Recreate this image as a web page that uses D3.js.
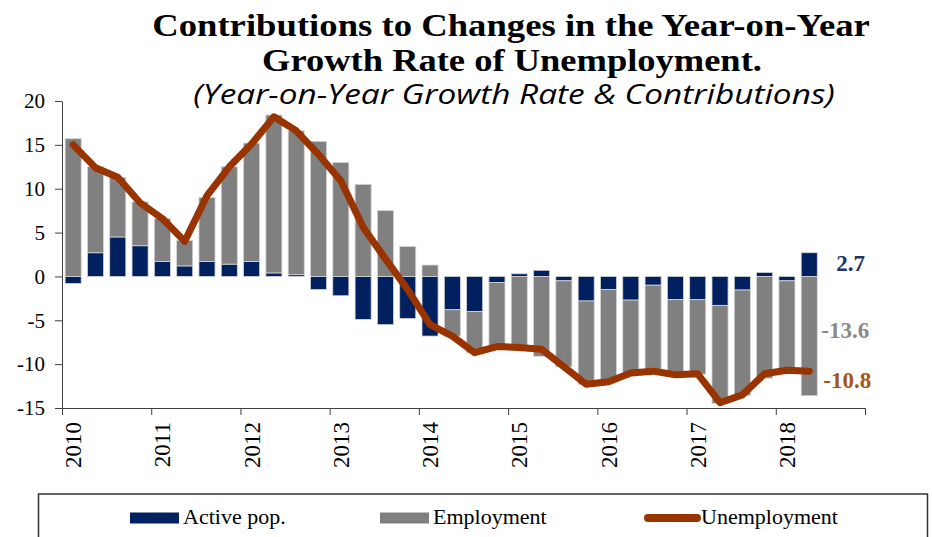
<!DOCTYPE html>
<html>
<head>
<meta charset="utf-8">
<script src="https://cdn.jsdelivr.net/npm/d3@7"></script>
<style>
body { margin: 0; background: #fff; }
svg text { font-family: "Liberation Serif", "DejaVu Serif", serif; fill: #000; }
</style>
</head>
<body>
<div id="chart"></div>
<script>

var quarters = ['2010Q1','2010Q2','2010Q3','2010Q4','2011Q1','2011Q2','2011Q3','2011Q4',
    '2012Q1','2012Q2','2012Q3','2012Q4','2013Q1','2013Q2','2013Q3','2013Q4',
    '2014Q1','2014Q2','2014Q3','2014Q4','2015Q1','2015Q2','2015Q3','2015Q4',
    '2016Q1','2016Q2','2016Q3','2016Q4','2017Q1','2017Q2','2017Q3','2017Q4',
    '2018Q1','2018Q2'];

var activePop = [-0.8, 2.7, 4.5, 3.5, 1.7, 1.2, 1.7, 1.4,
    1.7, 0.4, 0.2, -1.5, -2.2, -4.9, -5.5, -4.8,
    -6.8, -3.8, -4.0, -0.7, 0.3, 0.7, -0.5, -2.8,
    -1.5, -2.7, -1.0, -2.65, -2.65, -3.3, -1.55, 0.45,
    -0.5, 2.7];

var employment = [15.7, 9.8, 6.8, 5.0, 4.9, 2.9, 7.3, 11.1,
    13.5, 18.0, 16.4, 15.4, 13.0, 10.5, 7.5, 3.4,
    1.3, -3.0, -4.7, -7.3, -8.4, -9.1, -9.8, -9.5,
    -10.5, -8.3, -9.8, -8.5, -8.5, -11.2, -12.0, -11.6,
    -10.2, -13.6];

var unemployment = [15.0, 12.4, 11.3, 8.4, 6.6, 4.0, 9.2, 12.5,
    15.1, 18.2, 16.6, 13.9, 10.9, 5.6, 2.0, -1.5,
    -5.5, -6.8, -8.7, -8.0, -8.1, -8.3, -10.3, -12.3,
    -12.0, -11.0, -10.8, -11.2, -11.1, -14.4, -13.5, -11.1,
    -10.7, -10.8];

var yearLabels = ['2010','2011','2012','2013','2014','2015','2016','2017','2018'];
var yTicks = [-15, -10, -5, 0, 5, 10, 15, 20];

var colors = { active: '#002060', employment: '#808080', line: '#993300' };

function qPos(q){
    return +q.slice(0,4) + (+q.slice(5) - 1) / 4;
}

// stretch a centred text horizontally so it spans the given width
function fitWidth(sel, cx, cy, w){
    var len = sel.node().getComputedTextLength();
    sel.attr('x', 0).attr('y', 0)
        .attr('transform', 'translate(' + cx + ',' + cy + ') scale(' + (w / len) + ',1)');
}

function drawChart(){

    var width = 932, height = 537;
    var plot = { left: 62, right: 865, top: 101, bottom: 408 };

    var svg = d3.select('#chart').append('svg')
        .attr('width', width)
        .attr('height', height);

    var x = d3.scaleLinear()
        .domain([2010, 2019])
        .range([plot.left, plot.right]);

    var y = d3.scaleLinear()
        .domain([-15, 20])
        .range([plot.bottom, plot.top]);

    var step = x(2010.25) - x(2010);
    var barW = step * 0.72;

    var rows = quarters.map(function(q, i){
        return { q: q, active: activePop[i], employment: employment[i], unemp: unemployment[i] };
    });

    var series = d3.stack()
        .keys(['active', 'employment'])
        .offset(d3.stackOffsetDiverging)(rows);

    // bars
    svg.append('g').selectAll('g')
        .data(series)
        .join('g')
        .attr('fill', function(s){ return colors[s.key]; })
        .selectAll('rect')
        .data(function(s){ return s; })
        .join('rect')
        .attr('x', function(d){ return x(qPos(d.data.q) + 0.125) - barW / 2; })
        .attr('width', barW)
        .attr('y', function(d){ return y(Math.max(d[0], d[1])); })
        .attr('height', function(d){ return Math.abs(y(d[0]) - y(d[1])); })
        .attr('stroke', '#d4d4d4')
        .attr('stroke-width', 0.8);

    // y axis
    var yAxis = svg.append('g')
        .attr('transform', 'translate(' + plot.left + ',0)')
        .call(d3.axisLeft(y).tickValues(yTicks).tickSize(7).tickSizeOuter(0).tickPadding(10)
            .tickFormat(function(d){ return String(d); }));
    yAxis.select('.domain').attr('stroke', '#404040');
    yAxis.selectAll('.tick line').attr('stroke', '#404040');
    yAxis.selectAll('text')
        .attr('font-size', 21)
        .attr('fill', '#000')
        .attr('font-family', '"Liberation Serif", serif');

    // x axis: tick marks at year boundaries
    var xAxis = svg.append('g')
        .attr('transform', 'translate(0,' + plot.bottom + ')')
        .call(d3.axisBottom(x).tickValues(d3.range(2010, 2020)).tickSize(7).tickSizeOuter(0).tickFormat(''));
    xAxis.select('.domain').attr('stroke', '#404040');
    xAxis.selectAll('.tick line').attr('stroke', '#404040');

    svg.append('g').selectAll('text')
        .data(yearLabels)
        .join('text')
        .attr('transform', function(d){ return 'translate(' + x(+d + 0.125) + ',' + (plot.bottom + 14) + ') rotate(-90)'; })
        .attr('text-anchor', 'end')
        .attr('dy', '0.35em')
        .attr('font-size', 23)
        .text(function(d){ return d; });

    // unemployment line
    var line = d3.line()
        .x(function(d){ return x(qPos(d.q) + 0.125); })
        .y(function(d){ return y(d.unemp); });

    svg.append('path')
        .attr('fill', 'none')
        .attr('stroke', colors.line)
        .attr('stroke-width', 7)
        .attr('stroke-linejoin', 'round')
        .attr('stroke-linecap', 'round')
        .attr('d', line(rows));

    // end labels
    var last = rows[rows.length - 1];
    var lx = x(qPos(last.q) + 0.125) + barW / 2;
    svg.append('text')
        .attr('x', lx + 19).attr('y', y(last.active / 2) - 2)
        .attr('dy', '0.35em')
        .attr('font-size', 23).attr('font-weight', 'bold')
        .style('fill', '#1f3364')
        .text(last.active.toFixed(1));
    svg.append('text')
        .attr('x', lx + 4).attr('y', y(last.employment / 2) - 6)
        .attr('dy', '0.35em')
        .attr('font-size', 23).attr('font-weight', 'bold')
        .style('fill', '#8a8a8a')
        .text(last.employment.toFixed(1));
    svg.append('text')
        .attr('x', lx + 6).attr('y', y(last.unemp) + 9)
        .attr('dy', '0.35em')
        .attr('font-size', 23).attr('font-weight', 'bold')
        .style('fill', '#a85516')
        .text(last.unemp.toFixed(1));

    // titles
    var t1 = svg.append('text')
        .attr('text-anchor', 'middle')
        .attr('font-size', 31).attr('font-weight', 'bold')
        .text('Contributions to Changes in the Year-on-Year');
    var t2 = svg.append('text')
        .attr('text-anchor', 'middle')
        .attr('font-size', 31).attr('font-weight', 'bold')
        .text('Growth Rate of Unemployment.');
    var t3 = svg.append('text')
        .attr('text-anchor', 'middle')
        .attr('font-size', 27).attr('font-style', 'italic')
        .style('font-family', '"Open Sans", "Noto Sans", sans-serif')
        .text('(Year-on-Year Growth Rate & Contributions)');

    fitWidth(t1, 511, 36, 718);
    fitWidth(t2, 512, 71, 500);
    fitWidth(t3, 514, 104, 642);

    // legend
    svg.append('rect')
        .attr('x', 38.5).attr('y', 494)
        .attr('width', 889).attr('height', 70)
        .attr('fill', 'none')
        .attr('stroke', '#333')
        .attr('stroke-width', 1.5);

    var legend = [
        { label: 'Active pop.', key: 'active', x: 130 },
        { label: 'Employment', key: 'employment', x: 380 },
        { label: 'Unemployment', key: 'line', x: 645 }
    ];

    var lg = svg.append('g').selectAll('g')
        .data(legend)
        .join('g')
        .attr('transform', function(d){ return 'translate(' + d.x + ',0)'; });

    lg.filter(function(d){ return d.key != 'line'; })
        .append('rect')
        .attr('y', 512.5).attr('width', 49).attr('height', 11)
        .attr('fill', function(d){ return colors[d.key]; });

    lg.filter(function(d){ return d.key == 'line'; })
        .append('line')
        .attr('x1', 3).attr('x2', 52)
        .attr('y1', 518).attr('y2', 518)
        .attr('stroke', colors.line)
        .attr('stroke-width', 8)
        .attr('stroke-linecap', 'round');

    lg.append('text')
        .attr('x', function(d){ return d.key == 'line' ? 56 : 53; })
        .attr('y', 524)
        .attr('font-size', 22)
        .text(function(d){ return d.label; });
}

drawChart();

</script>
</body>
</html>
